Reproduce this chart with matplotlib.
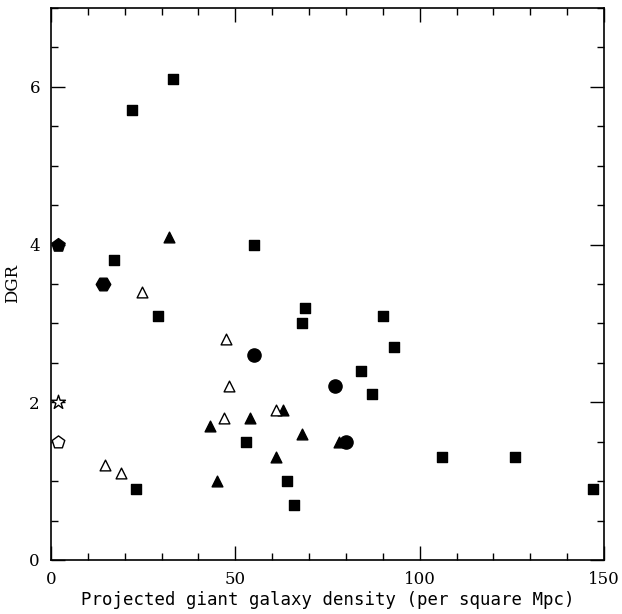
import matplotlib
matplotlib.use('Agg')
import matplotlib.pyplot as plt
from matplotlib.ticker import MultipleLocator

plt.rcParams['font.family'] = ['DejaVu Serif']

# filled squares
sq_x = [33, 22, 17, 55, 29, 69, 68, 53, 64, 23, 66, 90, 93, 84, 87, 106, 126, 147]
sq_y = [6.1, 5.7, 3.8, 4.0, 3.1, 3.2, 3.0, 1.5, 1.0, 0.9, 0.7, 3.1, 2.7, 2.4, 2.1, 1.3, 1.3, 0.9]
# filled triangles
ft_x = [32, 63, 54, 43, 68, 61, 45, 78]
ft_y = [4.1, 1.9, 1.8, 1.7, 1.6, 1.3, 1.0, 1.5]
# open triangles
ot_x = [24.6, 47.5, 48.4, 61, 47, 14.6, 19]
ot_y = [3.4, 2.8, 2.2, 1.9, 1.8, 1.2, 1.1]
# filled circles
ci_x = [55, 77, 80]
ci_y = [2.6, 2.2, 1.5]
# filled hexagon, filled pentagon, open pentagon, open star
hex_x, hex_y = [14], [3.5]
fp_x, fp_y = [2], [4.0]
op_x, op_y = [2], [1.5]
st_x, st_y = [2], [2.0]

fig = plt.figure(figsize=(6.22, 6.14), dpi=100)
ax = fig.add_axes([0.082, 0.088, 0.889, 0.899])

ax.scatter(sq_x, sq_y, marker='s', s=60, c='black', clip_on=False, zorder=3)
ax.scatter(ft_x, ft_y, marker='^', s=60, c='black', clip_on=False, zorder=3)
ax.scatter(ot_x, ot_y, marker='^', s=60, facecolors='white', edgecolors='black',
           linewidths=1.0, clip_on=False, zorder=3)
ax.scatter(ci_x, ci_y, marker='o', s=90, c='black', clip_on=False, zorder=3)
ax.scatter(hex_x, hex_y, marker='H', s=110, c='black', clip_on=False, zorder=3)
ax.scatter(fp_x, fp_y, marker='p', s=100, c='black', clip_on=False, zorder=3)
ax.scatter(op_x, op_y, marker='p', s=90, facecolors='white', edgecolors='black',
           linewidths=1.0, clip_on=False, zorder=3)
ax.scatter(st_x, st_y, marker='*', s=110, facecolors='white', edgecolors='black',
           linewidths=1.0, clip_on=False, zorder=3)

ax.set_xlim(0, 150)
ax.set_ylim(0, 7)
ax.xaxis.set_major_locator(MultipleLocator(50))
ax.xaxis.set_minor_locator(MultipleLocator(10))
ax.yaxis.set_major_locator(MultipleLocator(2))
ax.yaxis.set_minor_locator(MultipleLocator(0.5))
ax.tick_params(which='both', direction='in', top=True, right=True, width=1.0)
ax.tick_params(which='major', length=10, labelsize=12, pad=8)
ax.tick_params(which='minor', length=5)
for s in ax.spines.values():
    s.set_linewidth(1.2)

ax.set_xlabel('Projected giant galaxy density (per square Mpc)',
              family='DejaVu Sans Mono', fontsize=12.5, labelpad=2)
ax.set_ylabel('DGR', fontsize=12, labelpad=6)

fig.savefig('out.png', dpi=100)
